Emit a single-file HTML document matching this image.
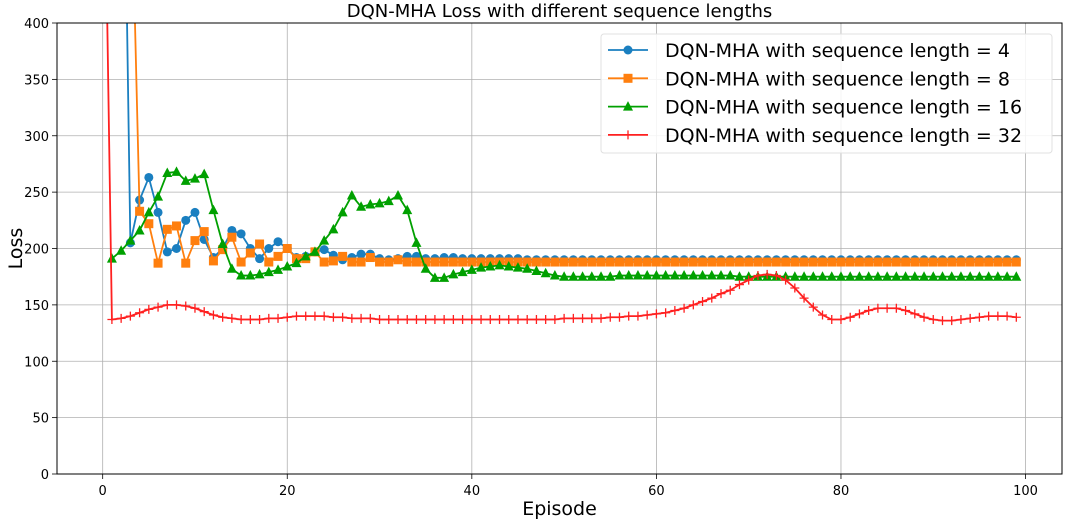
<!DOCTYPE html>
<html><head><meta charset="utf-8"><style>
body{margin:0;background:#fff;}
svg text{font-family:"DejaVu Sans","Liberation Sans",sans-serif;}
</style></head><body>
<svg id="chart" width="1065" height="520" viewBox="0 0 1065 520" xmlns="http://www.w3.org/2000/svg"></svg>
<script>
const xTicks=[0,20,40,60,80,100];
const yTicks=[0,50,100,150,200,250,300,350,400];
const seriesNames=["DQN-MHA with sequence length = 4","DQN-MHA with sequence length = 8","DQN-MHA with sequence length = 16","DQN-MHA with sequence length = 32"];
const blue=[3000,2000,747,205,243,263,232,197,200,225,232,208,192,200,216,213,200,191,200,206,200,192,193,197,199,194,190,192,195,195,191,190,191,193,193,191,191,192,192,191,191,191,191,191,191,191,190,190,190,190,190,190,190,190,190,190,190,190,190,190,190,190,190,190,190,190,190,190,190,190,190,190,190,190,190,190,190,190,190,190,190,190,190,190,190,190,190,190,190,190,190,190,190,190,190,190,190,190,190,190];
const orange=[3000,2000,1000,567,233,222,187,217,220,187,207,215,189,199,210,188,196,204,188,193,200,191,191,197,188,189,193,188,188,192,188,188,190,188,188,188,188,188,188,188,188,188,188,188,188,188,188,188,188,188,188,188,188,188,188,188,188,188,188,188,188,188,188,188,188,188,188,188,188,188,188,188,188,188,188,188,188,188,188,188,188,188,188,188,188,188,188,188,188,188,188,188,188,188,188,188,188,188,188,188];
const green=[null,191,198,207,216,232,246,267,268,260,262,266,234,204,182,176,176,177,179,181,184,187,193,197,207,217,232,247,237,239,240,242,247,234,205,182,174,174,177,179,181,183,184,185,184,183,182,180,178,176,175,175,175,175,175,175,176,176,176,176,176,176,176,176,176,176,176,176,176,175,175,175,175,175,175,175,175,175,175,175,175,175,175,175,175,175,175,175,175,175,175,175,175,175,175,175,175,175,175,175];
const red=[663,137,138,140,143,146,148,150,150,149,147,144,141,139,138,137,137,137,138,138,139,140,140,140,140,139,139,138,138,138,137,137,137,137,137,137,137,137,137,137,137,137,137,137,137,137,137,137,137,137,138,138,138,138,138,139,139,140,140,141,142,143,145,147,150,153,156,160,163,168,172,176,177,176,172,165,156,148,141,137,137,139,142,145,147,147,147,145,142,139,137,136,136,137,138,139,140,140,140,139];

const NS="http://www.w3.org/2000/svg";
const svg=document.getElementById('chart');
const L=57,R=1062,T=23,B=474,xmin=-4.95,xmax=103.95,ymin=0,ymax=400;
const X=v=>L+(v-xmin)/(xmax-xmin)*(R-L);
const Y=v=>B-(v-ymin)/(ymax-ymin)*(B-T);
function mk(tag,attrs,parent){const e=document.createElementNS(NS,tag);for(const k in attrs)e.setAttribute(k,attrs[k]);(parent||svg).appendChild(e);return e;}
const defs=mk('defs',{});
const cp=mk('clipPath',{id:'clip'},defs);mk('rect',{x:L,y:T,width:R-L,height:B-T},cp);

let t=mk('text',{x:(L+R)/2,y:17,'text-anchor':'middle','font-size':'18'});t.textContent="DQN-MHA Loss with different sequence lengths";



xTicks.forEach(v=>{
  const g=mk('line',{x1:X(v),x2:X(v),y1:T,y2:B,stroke:'#b0b0b0','stroke-width':'0.8'});
  
  
  mk('line',{x1:X(v),x2:X(v),y1:B,y2:B+5,stroke:'#000','stroke-width':'0.8'});
  const tx=mk('text',{x:X(v),y:B+21,'text-anchor':'middle','font-size':'13'});tx.textContent=v;
  
  
});
yTicks.forEach(v=>{
  const g=mk('line',{x1:L,x2:R,y1:Y(v),y2:Y(v),stroke:'#b0b0b0','stroke-width':'0.8'});
  
  
  mk('line',{x1:L-5,x2:L,y1:Y(v),y2:Y(v),stroke:'#000','stroke-width':'0.8'});
  const tx=mk('text',{x:L-8,y:Y(v)+5,'text-anchor':'end','font-size':'13'});tx.textContent=v;
  
  
});

const colors=['#1a7fc0','#ff7f0e','#00a000','#ff2020'];
const datas=[blue,orange,green,red];
const sg=mk('g',{'clip-path':'url(#clip)'});
function marker(kind,x,y,c,parent){
  if(kind===0) return mk('circle',{cx:x,cy:y,r:4.5,fill:c},parent);
  if(kind===1) return mk('rect',{x:x-4.5,y:y-4.5,width:9,height:9,fill:c},parent);
  if(kind===2) return mk('polygon',{points:`${x},${y-5.5} ${x-5},${y+4} ${x+5},${y+4}`,fill:c},parent);
  return mk('path',{d:`M${x-4.5},${y}H${x+4.5}M${x},${y-4.5}V${y+4.5}`,stroke:c,'stroke-width':'1.3',fill:'none'},parent);
}
datas.forEach((d,i)=>{
  const g=mk('g',{},sg);
  
  
  let pts=[];d.forEach((v,e)=>{if(v!==null)pts.push([X(e),Y(v)]);});
  const ln=mk('polyline',{points:pts.map(p=>p.join(',')).join(' '),fill:'none',stroke:colors[i],'stroke-width':'1.8'},g);
  
  
  pts.forEach(p=>{const m=marker(i,p[0],p[1],colors[i],g);
    
    });
});

const fr=mk('rect',{x:L,y:T,width:R-L,height:B-T,fill:'none',stroke:'#000','stroke-width':'1'});



let xl=mk('text',{x:(L+R)/2,y:515,'text-anchor':'middle','font-size':'19'});xl.textContent="Episode";


let yl=mk('text',{x:0,y:0,'text-anchor':'middle','font-size':'19',transform:`translate(22,${(T+B)/2}) rotate(-90)`});yl.textContent="Loss";



const lg=mk('g',{});


mk('rect',{x:601,y:34,width:451,height:119,rx:3,fill:'#fff','fill-opacity':'0.85',stroke:'#e0e0e0'},lg);
seriesNames.forEach((n,i)=>{
  const y=50+i*28.3;
  const en=mk('g',{},lg);
  
  
  mk('line',{x1:608,x2:648,y1:y,y2:y,stroke:colors[i],'stroke-width':'1.8'},en);
  marker(i,628,y,colors[i],en);
  const tx=mk('text',{x:665,y:y+7,'font-size':'19'},en);tx.textContent=n;
});
</script>
</body></html>
